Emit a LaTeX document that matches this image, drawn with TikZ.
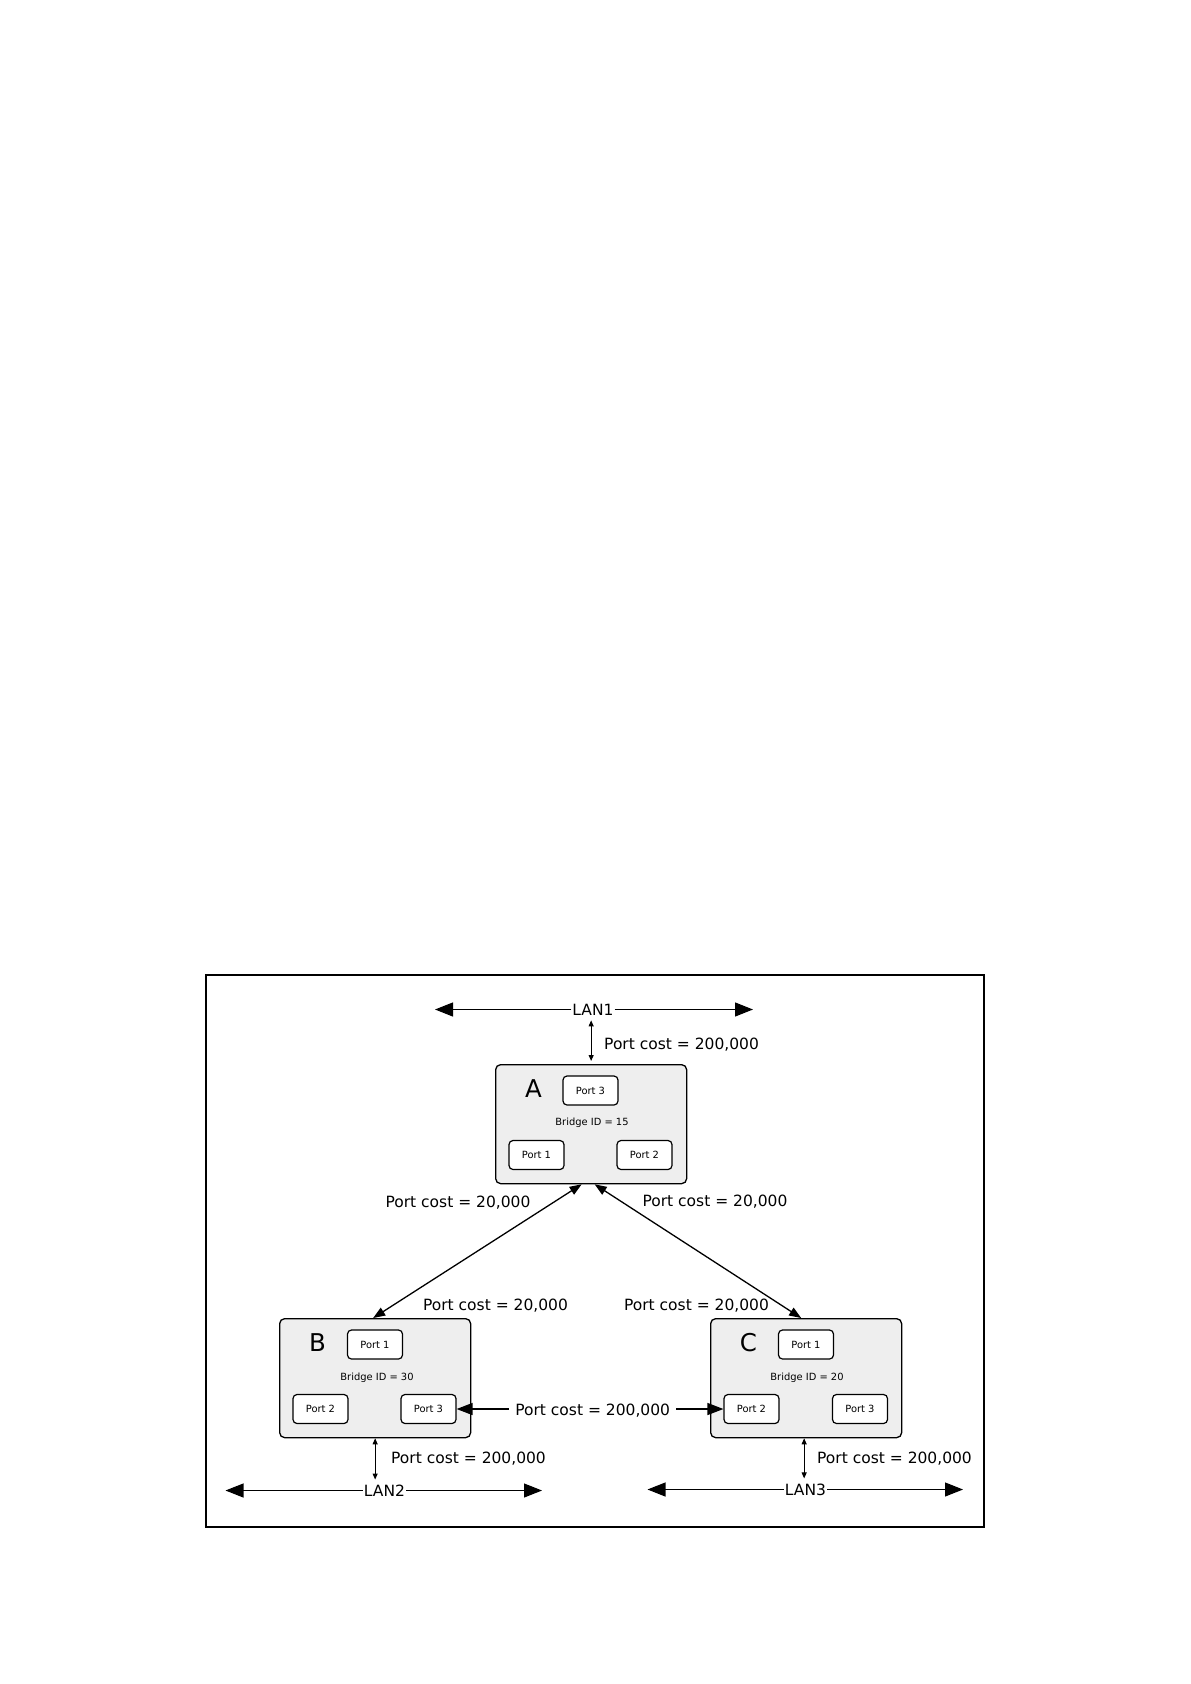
\documentclass[tikz,border=0pt]{standalone}
\usepackage{fontspec}
\setmainfont{DejaVu Sans}
\usetikzlibrary{arrows.meta}
\definecolor{boxgray}{RGB}{238,238,238}
\begin{document}
\begin{tikzpicture}[x=1pt,y=-1pt,
  bridge/.style={draw, line width=1.3pt, rounded corners=5pt, fill=boxgray,
    minimum width=191pt, minimum height=119pt, inner sep=0pt, anchor=north west},
  port/.style={draw, line width=1.2pt, rounded corners=4pt, fill=white,
    minimum width=55pt, minimum height=29pt, inner sep=0pt, font=\fontsize{9.9}{11}\selectfont},
  bid/.style={inner sep=0pt, font=\fontsize{9.9}{11}\selectfont},
  letter/.style={inner sep=0pt, font=\fontsize{24.5}{27}\selectfont},
  lbl/.style={inner sep=1pt, font=\fontsize{15.5}{18}\selectfont},
  lanarr/.style={-{Triangle[length=18pt,width=14pt]}, line width=1.2pt},
  diagarr/.style={{Triangle[length=12pt,width=9pt]}-{Triangle[length=12pt,width=9pt]}, line width=1.3pt},
  smallarr/.style={{Triangle[length=6pt,width=5pt]}-{Triangle[length=6pt,width=5pt]}, line width=1pt},
  midarr/.style={{Triangle[length=16pt,width=12pt]}-{Triangle[length=16pt,width=12pt]}, line width=1.3pt}
]
\useasboundingbox (0,0) rectangle (1191,1684);
\draw[line width=1.7pt] (206,975) rectangle (984,1527);

% bridges
\node[bridge] (A) at (495,1064) {};
\node[bridge] (B) at (279,1318) {};
\node[bridge] (C) at (710,1318) {};

% bridge A contents
\node[letter] (Al) at ([shift={(38.5,25)}]A.north west) {A};
\node[port] (a3) at ([shift={(95.5,26.5)}]A.north west) {Port 3};
\node[bid] (Aid) at ([shift={(97,59)}]A.north west) {Bridge ID = 15};
\node[port] (a1) at ([shift={(41.5,91)}]A.north west) {Port 1};
\node[port] (a2) at ([shift={(149.5,91)}]A.north west) {Port 2};

% bridge B contents
\node[letter] (Bl) at ([shift={(38.5,25)}]B.north west) {B};
\node[port] (b1) at ([shift={(96,26.5)}]B.north west) {Port 1};
\node[bid] (Bid) at ([shift={(98,60)}]B.north west) {Bridge ID = 30};
\node[port] (b2) at ([shift={(41.5,91)}]B.north west) {Port 2};
\node[port] (b3) at ([shift={(149.5,91)}]B.north west) {Port 3};

% bridge C contents
\node[letter] (Cl) at ([shift={(38.5,25)}]C.north west) {C};
\node[port] (c1) at ([shift={(96,26.5)}]C.north west) {Port 1};
\node[bid] (Cid) at ([shift={(97,60)}]C.north west) {Bridge ID = 20};
\node[port] (c2) at ([shift={(41.5,91)}]C.north west) {Port 2};
\node[port] (c3) at ([shift={(150,91)}]C.north west) {Port 3};

% LANs
\node[lbl] (lan1) at (593,1009.5) {LAN1};
\coordinate (lan1l) at (435,1009.5);
\coordinate (lan1r) at (753,1009.5);
\draw[lanarr] (lan1) -- (lan1l);
\draw[lanarr] (lan1) -- (lan1r);

\node[lbl] (lan2) at (384.5,1490.5) {LAN2};
\coordinate (lan2l) at (225.5,1490.5);
\coordinate (lan2r) at (542,1490.5);
\draw[lanarr] (lan2) -- (lan2l);
\draw[lanarr] (lan2) -- (lan2r);

\node[lbl] (lan3) at (805.5,1489.5) {LAN3};
\coordinate (lan3l) at (647.5,1489.5);
\coordinate (lan3r) at (963,1489.5);
\draw[lanarr] (lan3) -- (lan3l);
\draw[lanarr] (lan3) -- (lan3r);

% vertical links to LANs
\draw[smallarr] ([yshift=3pt]A.north) -- ([yshift=-4pt]A.north |- lan1.south);
\draw[smallarr] (B.south) -- ([yshift=4pt]B.south |- lan2.north);
\draw[smallarr] ([xshift=-2pt]C.south) -- ([xshift=-2pt,yshift=4pt]C.south |- lan3.north);

\node[lbl, anchor=west] (pcA) at (603,1045) {Port cost = 200,000};
\node[lbl] (pcB) at (468.5,1459) {Port cost = 200,000};
\node[lbl] (pcC) at (894.5,1459) {Port cost = 200,000};

% diagonal links
\draw[diagarr] ([xshift=-9.5pt]A.south) -- ([xshift=-2pt]B.north);
\draw[diagarr] ([xshift=3.5pt]A.south) -- ([xshift=-5pt]C.north);

\node[lbl] (pcAB) at (458,1203) {Port cost = 20,000};
\node[lbl] (pcAC) at (715,1201.5) {Port cost = 20,000};
\node[lbl] (pcBA) at (495.5,1305.5) {Port cost = 20,000};
\node[lbl] (pcCA) at (696.5,1305.5) {Port cost = 20,000};

% B-C link
\draw[midarr] (b3) -- node[lbl, fill=white, inner xsep=6pt, pos=0.51, yshift=-1.5pt] (pcBC) {Port cost = 200,000} (c2);
\end{tikzpicture}
\end{document}
